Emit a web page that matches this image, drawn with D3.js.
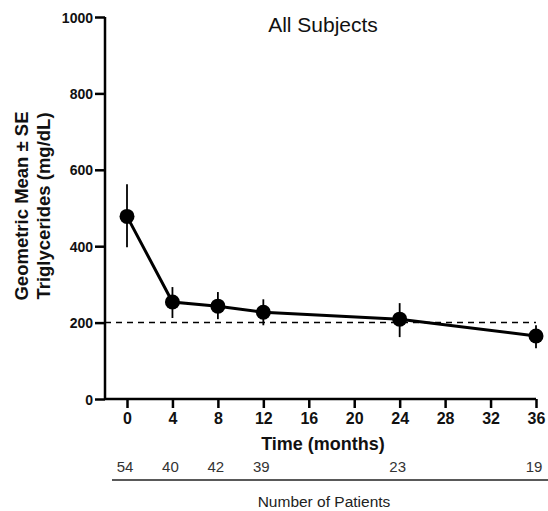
<!DOCTYPE html>
<html>
<head>
<meta charset="utf-8">
<script src="https://cdn.jsdelivr.net/npm/d3@7"></script>
<style>
  body { margin: 0; background: #fff; }
  svg text { font-family: "Liberation Sans", Arial, sans-serif; fill: #111; }
</style>
</head>
<body>
<div id="chart"></div>
<script>
// chart values
const months = [0, 4, 8, 12, 24, 36];
const geoMean = [478, 254, 243, 227, 209, 165];
const seLow = [397, 212, 209, 193, 162, 133];
const seHigh = [562, 293, 280, 261, 251, 193];
const patients = [54, 40, 42, 39, 23, 19];
const xTicks = [0, 4, 8, 12, 16, 20, 24, 28, 32, 36];
const yTicks = [0, 200, 400, 600, 800, 1000];
const refLine = 200;

const width = 548, height = 511;

const svg = d3.select("#chart")
  .append("svg")
  .attr("width", width)
  .attr("height", height);

const x = d3.scaleLinear().domain([0, 36]).range([127, 536]);
const y = d3.scaleLinear().domain([0, 1000]).range([399, 17]);
const axisLeftX = 105;

// y axis
const yAxis = svg.append("g")
  .attr("transform", `translate(${axisLeftX},0)`)
  .call(d3.axisLeft(y).tickValues(yTicks).tickSize(10).tickPadding(2).tickFormat(d3.format("d")));
yAxis.select(".domain").attr("stroke", "#000").attr("stroke-width", 2.5)
  .attr("d", `M0,${y(1000)}V${y(0)}`);
yAxis.selectAll(".tick line").attr("stroke", "#000").attr("stroke-width", 2.5);
yAxis.selectAll(".tick text").style("font-size", "14px").style("font-weight", "bold")
  .attr("dy", "0.36em");

// x axis
const xAxis = svg.append("g")
  .attr("transform", `translate(0,${y(0)})`)
  .call(d3.axisBottom(x).tickValues(xTicks).tickSize(9).tickPadding(5));
xAxis.select(".domain").attr("stroke", "#000").attr("stroke-width", 2.5)
  .attr("d", `M${axisLeftX},0H${x(36)}`);
xAxis.selectAll(".tick line").attr("stroke", "#000").attr("stroke-width", 2.5);
xAxis.selectAll(".tick text").style("font-size", "16px").style("font-weight", "bold");

// reference line at 200
svg.append("line")
  .attr("x1", axisLeftX).attr("x2", x(36))
  .attr("y1", y(refLine)).attr("y2", y(refLine))
  .attr("stroke", "#000").attr("stroke-width", 1.5)
  .attr("stroke-dasharray", "6,5");

const pts = months.map((m, i) => ({ m, v: geoMean[i], lo: seLow[i], hi: seHigh[i], n: patients[i] }));

// error bars
svg.selectAll(".err")
  .data(pts)
  .enter()
  .append("line")
  .attr("class", "err")
  .attr("x1", d => x(d.m)).attr("x2", d => x(d.m))
  .attr("y1", d => y(d.lo)).attr("y2", d => y(d.hi))
  .attr("stroke", "#000").attr("stroke-width", 1.8);

// mean line
svg.append("path")
  .datum(pts)
  .attr("fill", "none")
  .attr("stroke", "#000")
  .attr("stroke-width", 3)
  .attr("d", d3.line().x(d => x(d.m)).y(d => y(d.v)));

// markers
svg.selectAll(".pt")
  .data(pts)
  .enter()
  .append("circle")
  .attr("class", "pt")
  .attr("cx", d => x(d.m))
  .attr("cy", d => y(d.v))
  .attr("r", 7.5)
  .attr("fill", "#000");

// title
svg.append("text")
  .attr("x", 323).attr("y", 32)
  .attr("text-anchor", "middle")
  .style("font-size", "21px")
  .text("All Subjects");

// axis titles
svg.append("text")
  .attr("x", 323).attr("y", 450)
  .attr("text-anchor", "middle")
  .style("font-size", "18px").style("font-weight", "bold")
  .text("Time (months)");

const yLab = svg.append("text")
  .attr("transform", `translate(28,206) rotate(-90)`)
  .attr("text-anchor", "middle")
  .style("font-size", "18.5px").style("font-weight", "bold");
yLab.append("tspan").attr("x", 0).attr("dy", 0).text("Geometric Mean ± SE");
yLab.append("tspan").attr("x", 0).attr("dy", 22).text("Triglycerides (mg/dL)");

// number of patients row
svg.selectAll(".npat")
  .data(pts)
  .enter()
  .append("text")
  .attr("class", "npat")
  .attr("x", d => x(d.m) - 2)
  .attr("y", 472)
  .attr("text-anchor", "middle")
  .style("font-size", "15px")
  .style("fill", "#333")
  .text(d => d.n);

svg.append("line")
  .attr("x1", 112).attr("x2", 548)
  .attr("y1", 480).attr("y2", 480)
  .attr("stroke", "#222").attr("stroke-width", 1.5);

svg.append("text")
  .attr("x", 324).attr("y", 507)
  .attr("text-anchor", "middle")
  .style("font-size", "15.5px")
  .style("fill", "#222")
  .text("Number of Patients");
</script>
</body>
</html>
